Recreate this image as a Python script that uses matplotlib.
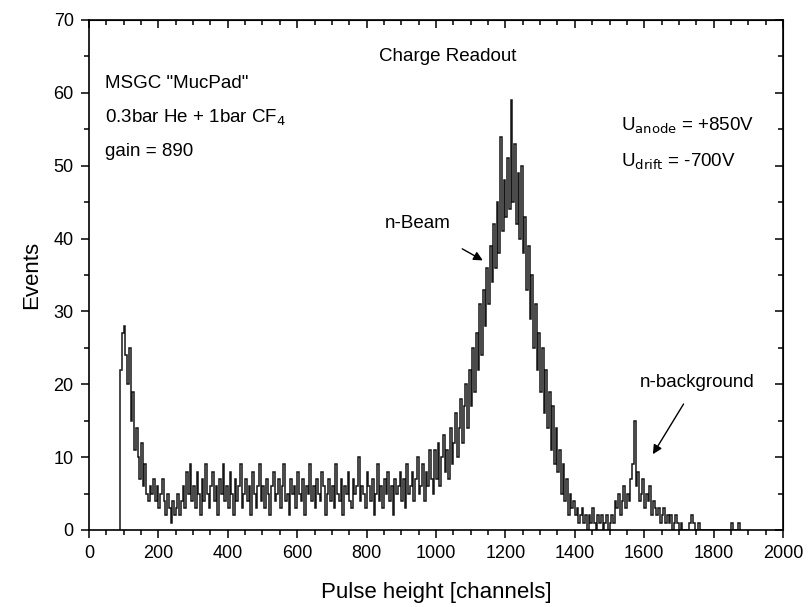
import matplotlib.pyplot as plt
from matplotlib.ticker import MultipleLocator

plt.rcParams['font.family'] = ['Liberation Sans', 'DejaVu Sans']

# counts per 5-channel bin, starting at channel 90
bin_start = 90
bin_width = 5
counts = [
    22, 27, 28, 24, 20, 25, 15, 19, 11, 14, 10, 7, 12, 6, 9, 5, 4, 6, 5, 7,    # 90-190
    4, 6, 3, 5, 7, 4, 2, 5, 3, 1, 4, 2, 3, 5, 2, 4, 6, 3, 8, 5,                # 190-290
    9, 4, 6, 3, 8, 5, 2, 7, 4, 9, 5, 3, 6, 8, 4, 6, 2, 7, 5, 9,                # 290-390
    4, 6, 3, 8, 5, 2, 7, 4, 6, 9, 3, 5, 7, 4, 6, 2, 8, 5, 3, 6,                # 390-490
    9, 4, 6, 3, 7, 5, 2, 6, 8, 4, 5, 7, 3, 6, 9, 4, 5, 2, 7, 5,                # 490-590
    6, 3, 8, 5, 4, 7, 2, 6, 5, 9, 4, 6, 3, 7, 5, 4, 8, 6, 2, 5,                # 590-690
    7, 4, 6, 3, 9, 5, 4, 7, 2, 6, 5, 8, 4, 3, 7, 5, 6, 10, 4, 6,               # 690-790
    5, 3, 8, 6, 4, 7, 2, 5, 9, 4, 6, 3, 7, 5, 8, 4, 6, 2, 7, 5,                # 790-890
    6, 8, 4, 7, 3, 9, 5, 6, 8, 4, 7, 10, 5, 6, 9, 4, 8, 6, 11, 7,              # 890-990
    5, 11, 7, 12, 6, 10, 13, 8, 11, 7, 14, 9, 12, 16, 10, 14, 18, 12, 17, 20,  # 990-1090
    14, 22, 17, 25, 19, 27, 22, 31, 24, 33, 28, 36, 31, 39, 34, 42, 36, 45, 38, 54,  # 1090-1190
    41, 48, 43, 51, 44, 59, 45, 53, 42, 49, 40, 50, 38, 43, 33, 39, 29, 35, 25, 31,  # 1190-1290
    22, 27, 19, 25, 16, 22, 14, 19, 11, 17, 9, 14, 8, 11, 5, 9, 4, 7, 2, 5,    # 1290-1390
    3, 4, 2, 3, 1, 2, 3, 1, 2, 0, 2, 1, 3, 1, 0, 2, 1, 2, 0, 1,                # 1390-1490
    2, 0, 1, 2, 1, 4, 3, 5, 2, 4, 6, 3, 5, 4, 7, 9, 15, 6, 8, 4,               # 1490-1590
    5, 7, 3, 5, 4, 6, 2, 4, 3, 2, 3, 1, 2, 3, 1, 2, 1, 2, 0, 1,                # 1590-1690
    2, 1, 0, 1, 0, 0, 0, 0, 1, 2, 1, 0, 0, 1, 0, 0, 0, 0, 0, 0,                # 1690-1790
    0, 0, 0, 0, 0, 0, 0, 0, 0, 0, 0, 0, 1, 0, 0, 0, 1, 0,                      # 1790-1880
]
edges = [bin_start + i * bin_width for i in range(len(counts) + 1)]

fig = plt.figure(figsize=(8.11, 6.07), dpi=100)
ax = fig.add_axes([0.1097, 0.1269, 0.8558, 0.8402])

ax.stairs(counts, edges, color='#151515', lw=1.1, baseline=0)

ax.set_xlim(0, 2000)
ax.set_ylim(0, 70)
ax.xaxis.set_major_locator(MultipleLocator(200))
ax.xaxis.set_minor_locator(MultipleLocator(50))
ax.yaxis.set_major_locator(MultipleLocator(10))
ax.yaxis.set_minor_locator(MultipleLocator(5))
ax.tick_params(which='both', direction='out', width=1.1, labelsize=13)
ax.tick_params(which='major', length=6, pad=5)
ax.tick_params(which='minor', length=3.5)
for s in ax.spines.values():
    s.set_linewidth(1.2)

# inward ticks on top and right
top = ax.secondary_xaxis('top')
top.xaxis.set_major_locator(MultipleLocator(200))
top.xaxis.set_minor_locator(MultipleLocator(50))
top.tick_params(which='both', direction='in', width=1.1, labeltop=False)
top.tick_params(which='major', length=6)
top.tick_params(which='minor', length=3.5)
right = ax.secondary_yaxis('right')
right.yaxis.set_major_locator(MultipleLocator(10))
right.yaxis.set_minor_locator(MultipleLocator(5))
right.tick_params(which='both', direction='in', width=1.1, labelright=False)
right.tick_params(which='major', length=6)
right.tick_params(which='minor', length=3.5)

ax.set_xlabel('Pulse height [channels]', fontsize=16, labelpad=14)
ax.set_ylabel('Events', fontsize=16, labelpad=8)

ax.text(1033, 65.0, 'Charge Readout', ha='center', va='center', fontsize=13.5)
ax.text(45, 61.3, 'MSGC "MucPad"', ha='left', va='center', fontsize=13.5)
ax.text(45, 56.6, '0.3bar He + 1bar CF$_4$', ha='left', va='center', fontsize=13.5)
ax.text(45, 51.9, 'gain = 890', ha='left', va='center', fontsize=13.5)
ax.text(1533, 55.4, 'U$_{\\mathrm{anode}}$ = +850V', ha='left', va='center', fontsize=13.5)
ax.text(1533, 50.5, 'U$_{\\mathrm{drift}}$ = -700V', ha='left', va='center', fontsize=13.5)

ax.annotate('n-Beam', xy=(1135, 37.0), xytext=(948, 42.0), ha='center', va='center',
            fontsize=13.5, arrowprops=dict(arrowstyle='-|>', color='black', lw=1.0,
                                           shrinkA=20, shrinkB=0))
ax.annotate('n-background', xy=(1625, 10.4), xytext=(1752, 20.3), ha='center', va='center',
            fontsize=13.5, arrowprops=dict(arrowstyle='-|>', color='black', lw=1.0,
                                           shrinkA=9, shrinkB=0))

fig.savefig('out.png', dpi=100)
